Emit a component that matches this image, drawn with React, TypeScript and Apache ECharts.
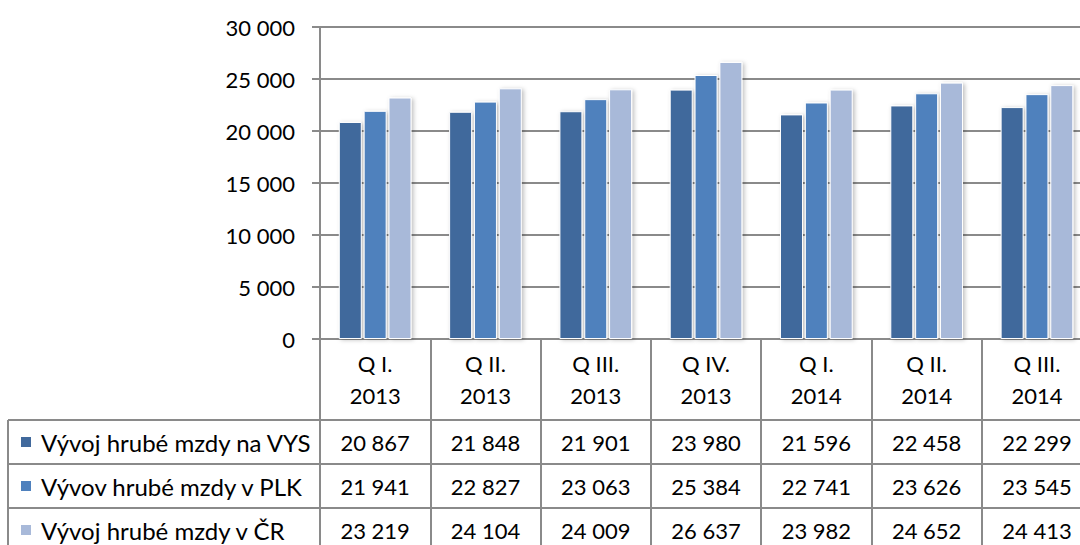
import React, { useEffect, useRef } from "react";
import * as echarts from "echarts";

// Quarters shown on the category axis
const quarters = ["Q I.\n2013", "Q II.\n2013", "Q III.\n2013", "Q IV.\n2013", "Q I.\n2014", "Q II.\n2014", "Q III.\n2014"];

// Average gross wage (CZK)
const wageVYS = [20867, 21848, 21901, 23980, 21596, 22458, 22299];
const wagePLK = [21941, 22827, 23063, 25384, 22741, 23626, 23545];
const wageCR = [23219, 24104, 24009, 26637, 23982, 24652, 24413];

const seriesNames = ["Vývoj hrubé mzdy na VYS", "Vývov hrubé mzdy v PLK", "Vývoj hrubé mzdy v ČR"];
const seriesColors = ["#41699c", "#4f81bd", "#a8b9d9"];

const yTicks = { min: 0, max: 30000, step: 5000 };

const FONT = "Lato";
const LINE = "#8a8a8a";

// layout of the plot and the data table below it
const GRID_LEFT = 320;
const GRID_TOP = 27;
const COL_W = 110.3;
const GRID_H = 312;
const HEADER_H = 81;
const ROW_H = 44;
const TABLE_LEFT = 8;

const fmt = (v: number) => String(v).replace(/\B(?=(\d{3})+(?!\d))/g, " ");

export default function App() {
  const ref = useRef<HTMLDivElement>(null);

  useEffect(() => {
    if (!ref.current) return;
    const chart = echarts.init(ref.current, undefined, { renderer: "svg" });
    const rows = [wageVYS, wagePLK, wageCR];
    const gridBottomY = GRID_TOP + GRID_H;
    const firstRowY = gridBottomY + HEADER_H;

    const rowAxes = rows.map((vals, i) => ({
      type: "category",
      gridIndex: 0,
      position: "bottom",
      offset: HEADER_H + i * ROW_H,
      data: vals.map(fmt),
      axisLine: { show: true, lineStyle: { color: LINE, width: 2 } },
      axisTick: { show: false },
      axisLabel: {
        interval: 0,
        margin: 0,
        lineHeight: ROW_H,
        fontSize: 22,
        fontFamily: FONT,
        color: "#000",
      },
    }));

    const legendLines: any[] = [];
    for (let i = 0; i < rows.length; i++) {
      const y = firstRowY + i * ROW_H;
      legendLines.push({
        type: "line",
        shape: { x1: TABLE_LEFT, y1: y, x2: GRID_LEFT, y2: y },
        style: { stroke: LINE, lineWidth: 2 },
      });
    }
    legendLines.push({
      type: "line",
      shape: { x1: TABLE_LEFT, y1: firstRowY, x2: TABLE_LEFT, y2: firstRowY + 4 * ROW_H },
      style: { stroke: LINE, lineWidth: 2 },
    });

    chart.setOption({
      animation: false,
      grid: {
        left: GRID_LEFT,
        top: GRID_TOP,
        width: COL_W * quarters.length,
        height: GRID_H,
        outerBoundsMode: "none",
        containLabel: false,
      },
      legend: {
        orient: "vertical",
        left: 19,
        top: firstRowY,
        padding: 0,
        itemGap: 0,
        itemWidth: 12,
        itemHeight: 12,
        selectedMode: false,
        icon: "rect",
        data: seriesNames,
        textStyle: {
          fontSize: 24,
          fontFamily: FONT,
          color: "#000",
          lineHeight: ROW_H,
          padding: [0, 0, 0, 4],
        },
      },
      xAxis: [
        {
          type: "category",
          data: quarters,
          axisLine: { show: true, lineStyle: { color: LINE, width: 2 } },
          axisTick: { show: true, interval: 0, length: 230, lineStyle: { color: LINE, width: 2 } },
          axisLabel: {
            interval: 0,
            margin: 8,
            lineHeight: 32,
            fontSize: 22,
            fontFamily: FONT,
            color: "#000",
          },
        },
        ...rowAxes,
      ],
      yAxis: {
        type: "value",
        min: yTicks.min,
        max: yTicks.max,
        interval: yTicks.step,
        axisLine: { show: true, lineStyle: { color: LINE, width: 2 } },
        axisTick: { show: true, length: 8, lineStyle: { color: LINE, width: 2 } },
        axisLabel: {
          formatter: (v: number) => fmt(v),
          fontSize: 22,
          fontFamily: FONT,
          color: "#000",
          margin: 25,
        },
        splitLine: { show: true, lineStyle: { color: LINE, width: 2 } },
      },
      series: rows.map((vals, i) => ({
        type: "bar",
        name: seriesNames[i],
        data: vals,
        xAxisIndex: 0,
        barWidth: 23,
        barGap: "8%",
        itemStyle: {
          color: seriesColors[i],
          borderColor: "#ffffff",
          borderWidth: 1,
          shadowBlur: 4,
          shadowOffsetX: 2,
          shadowOffsetY: 1,
          shadowColor: "rgba(0,0,0,0.25)",
        },
      })),
      graphic: legendLines,
    });

    return () => chart.dispose();
  }, []);

  return (
    <div style={{ position: "fixed", left: 0, top: 0, width: 1080, height: 545, overflow: "hidden", background: "#fff" }}>
      <div ref={ref} style={{ width: 1110, height: 620 }} />
    </div>
  );
}
